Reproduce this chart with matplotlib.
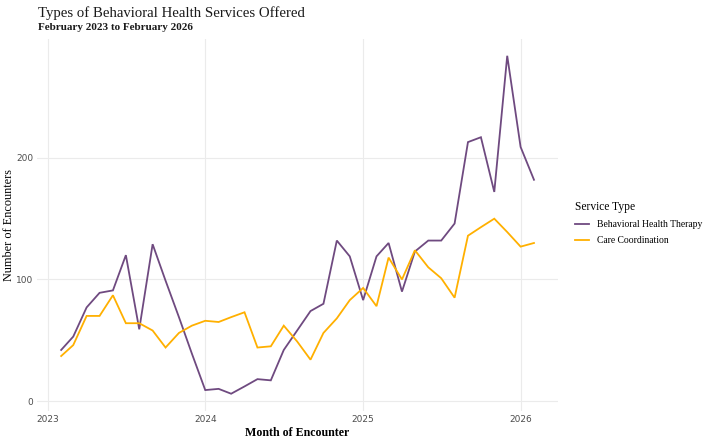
import matplotlib
matplotlib.use("Agg")
import matplotlib.pyplot as plt
import pandas as pd

months = pd.date_range("2023-02-01", "2026-02-01", freq="MS")
behavioral_health_therapy = [42, 53, 77, 89, 91, 120, 59, 129, 99, 69, 39, 9,
                             10, 6, 12, 18, 17, 42, 58, 74, 80, 132, 119, 83,
                             119, 130, 90, 123, 132, 132, 146, 213, 217, 172, 284, 209,
                             182]
care_coordination = [37, 46, 70, 70, 87, 64, 64, 58, 44, 56, 62, 66,
                     65, 69, 73, 44, 45, 62, 49, 34, 56, 68, 83, 93,
                     78, 118, 100, 124, 110, 101, 85, 136, 143, 150, 139, 127,
                     130]
series_names = ["Behavioral Health Therapy", "Care Coordination"]
series_colors = ["#6f4a80", "#ffb000"]
year_ticks = ["2023", "2024", "2025", "2026"]
y_ticks = [0, 100, 200]

serif = ["Liberation Serif", "DejaVu Serif"]

fig = plt.figure(figsize=(7.09, 4.42), dpi=100)
ax = fig.add_axes([0.0528, 0.071, 0.7338, 0.841])

for vals, name, col in zip([behavioral_health_therapy, care_coordination], series_names, series_colors):
    ax.plot(months, vals, color=col, lw=1.3, label=name, solid_joinstyle="miter")

x0 = months[0] - pd.Timedelta(days=55)
x1 = months[-1] + pd.Timedelta(days=55)
ax.set_xlim(x0, x1)
allv = behavioral_health_therapy + care_coordination
rng = max(allv) - min(allv)
ax.set_ylim(min(allv) - 0.05 * rng, max(allv) + 0.05 * rng)

ax.set_xticks([pd.Timestamp(f"{y}-01-01") for y in year_ticks])
ax.set_xticklabels(year_ticks)
ax.set_yticks(y_ticks)
ax.set_yticklabels([str(v) for v in y_ticks])
ax.tick_params(axis="both", length=0, labelsize=6.5, labelcolor="#4d4d4d", pad=3)
for lab in ax.get_xticklabels() + ax.get_yticklabels():
    lab.set_family("DejaVu Sans")

ax.grid(True, color="#ebebeb", lw=0.8)
ax.set_axisbelow(True)
for s in ax.spines.values():
    s.set_visible(False)

ax.set_xlabel("Month of Encounter", family=serif, fontsize=8.6, fontweight="bold", labelpad=2)
ax.set_ylabel("Number of Encounters", family=serif, fontsize=8.8)
ax.yaxis.set_label_coords(-0.044, 0.5)

fig.text(0.0536, 0.962, "Types of Behavioral Health Services Offered", family=serif, fontsize=10.6,
         ha="left", va="baseline", color="#1a1a1a")
fig.text(0.0536, 0.933, "February 2023 to February 2026", family=serif, fontsize=8,
         fontweight="bold", ha="left", va="baseline", color="#1a1a1a")

leg = ax.legend(loc="center left", bbox_to_anchor=(1.033, 0.505), frameon=False,
                title="Service Type", prop={"family": serif, "size": 6.9},
                handlelength=1.5, handletextpad=0.8, labelspacing=0.75, alignment="left",
                borderaxespad=0, borderpad=0)
leg.get_title().set_family(serif)
leg.get_title().set_fontsize(8.3)

fig.savefig("out.png", dpi=100, facecolor="white")
